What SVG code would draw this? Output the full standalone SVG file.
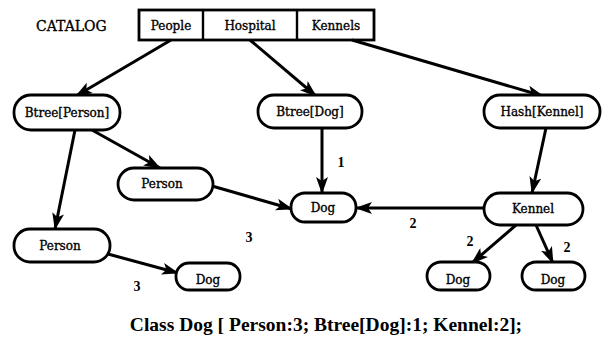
<svg xmlns="http://www.w3.org/2000/svg" width="610" height="356" viewBox="0 0 610 356">
<defs>
<marker id="ah" markerWidth="17" markerHeight="12" refX="16" refY="6" orient="auto" markerUnits="userSpaceOnUse">
<path d="M0,0 L17,6 L0,12 L4,6 z" fill="#000"/>
</marker>
<style>
.n{fill:#fff;stroke:#000;stroke-width:2.8}
.t{font-family:"DejaVu Serif",serif;font-size:12px;fill:#000;stroke:#000;stroke-width:0.35;text-anchor:middle}
.e{stroke:#000;stroke-width:3;fill:none;marker-end:url(#ah)}
.l{font-family:"Liberation Serif",serif;font-size:14px;font-weight:bold;fill:#000;text-anchor:middle}
</style>
</defs>
<rect width="610" height="356" fill="#fff"/>
<text x="36" y="31" style="font-family:'DejaVu Serif',serif;font-size:14px;stroke:#000;stroke-width:0.35">CATALOG</text>
<g id="catalog">
<rect x="139" y="10" width="235" height="30" fill="#fff" stroke="#000" stroke-width="2.8"/>
<line x1="203" y1="10" x2="203" y2="40" stroke="#000" stroke-width="2.4"/>
<line x1="297" y1="10" x2="297" y2="40" stroke="#000" stroke-width="2.4"/>
<text class="t" x="171" y="30">People</text>
<text class="t" x="250" y="30">Hospital</text>
<text class="t" x="336" y="30">Kennels</text>
</g>
<g id="connectors">
<line class="e" x1="171" y1="40" x2="76" y2="96"/>
<line class="e" x1="250" y1="40" x2="316" y2="96"/>
<line class="e" x1="352" y1="40" x2="543" y2="96"/>
<line class="e" x1="92" y1="130" x2="160" y2="168"/>
<line class="e" x1="75" y1="130" x2="55" y2="229"/>
<line class="e" x1="322" y1="128" x2="322" y2="193"/>
<line class="e" x1="212" y1="186" x2="292" y2="209"/>
<line class="e" x1="546" y1="128" x2="532" y2="193"/>
<line class="e" x1="484" y1="208" x2="356" y2="208"/>
<line class="e" x1="516" y1="225" x2="472" y2="263"/>
<line class="e" x1="536" y1="225" x2="553" y2="263"/>
<line class="e" x1="108" y1="254" x2="178" y2="273"/>
<text class="l" x="341" y="167">1</text>
<text class="l" x="249" y="242">3</text>
<text class="l" x="413" y="228">2</text>
<text class="l" x="470" y="246">2</text>
<text class="l" x="567" y="252">2</text>
<text class="l" x="137" y="291">3</text>
</g>
<g id="btree-person"><rect class="n" x="14" y="95" width="106" height="35" rx="17"/><text class="t" x="67" y="117">Btree[Person]</text></g>
<g id="btree-dog"><rect class="n" x="258" y="95" width="104" height="33" rx="16"/><text class="t" x="310" y="116">Btree[Dog]</text></g>
<g id="hash-kennel"><rect class="n" x="484" y="95" width="116" height="33" rx="16"/><text class="t" x="542" y="116">Hash[Kennel]</text></g>
<g id="person-mid"><rect class="n" x="118" y="168" width="95" height="32" rx="16"/><text class="t" x="162" y="188">Person</text></g>
<g id="dog-mid"><rect class="n" x="291" y="193" width="65" height="29" rx="14"/><text class="t" x="323" y="212">Dog</text></g>
<g id="kennel"><rect class="n" x="484" y="193" width="99" height="32" rx="16"/><text class="t" x="533" y="213">Kennel</text></g>
<g id="person-bottom"><rect class="n" x="14" y="229" width="96" height="33" rx="16"/><text class="t" x="60" y="250">Person</text></g>
<g id="dog-bl"><rect class="n" x="176" y="263" width="64" height="27" rx="13"/><text class="t" x="208" y="284">Dog</text></g>
<g id="dog-br1"><rect class="n" x="427" y="262" width="63" height="28" rx="14"/><text class="t" x="458" y="284">Dog</text></g>
<g id="dog-br2"><rect class="n" x="522" y="262" width="63" height="28" rx="14"/><text class="t" x="553" y="284">Dog</text></g>
<text x="326" y="331" style="font-family:'Liberation Serif',serif;font-size:19.5px;font-weight:bold;text-anchor:middle">Class Dog [ Person:3; Btree[Dog]:1; Kennel:2];</text>
</svg>
